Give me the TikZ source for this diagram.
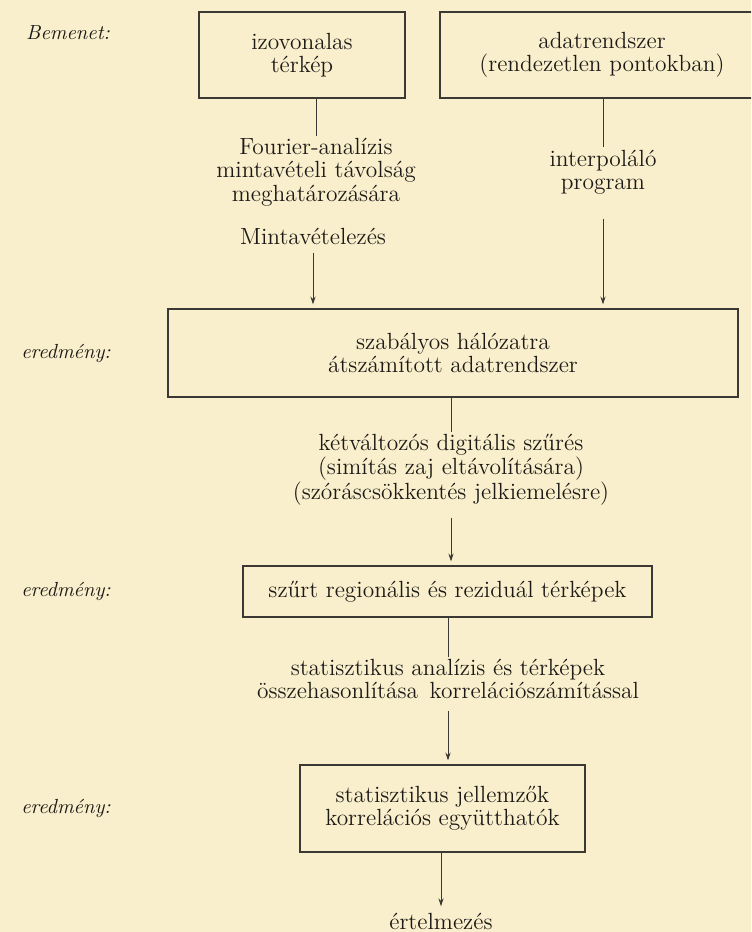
\documentclass[tikz,border=0pt]{standalone}
\usepackage{fontspec}
\usepackage{tikz}
\usetikzlibrary{arrows.meta,calc}

\definecolor{papir}{RGB}{249,239,204}
\definecolor{tinta}{RGB}{28,25,22}
\definecolor{vonal}{RGB}{60,56,52}

\tikzset{
  keret/.style={draw=vonal, line width=0.55pt, inner sep=0pt, align=center, text=tinta},
  felirat/.style={align=center, text=tinta, inner sep=1pt},
  oldal/.style={font=\fontsize{10.2}{11}\selectfont\itshape, text=tinta},
  nyil/.style={->, shorten >=2pt},
}

\begin{document}
\begin{tikzpicture}[x=0.5pt, y=-0.5pt, >={Stealth[length=4pt,width=2.6pt]},
    line width=0.45pt, draw=vonal, font=\fontsize{11.7}{11.7}\selectfont]

    \clip (0,0) rectangle (751,932);
    \fill[papir] (0,0) rectangle (751,932);

    % bemenetek
    \node[keret, minimum width=103pt, minimum height=43pt] (izo) at (302,55)
        {izovonalas\\térkép};
    \node[keret, minimum width=162pt, minimum height=43pt] (adat) at (602,55)
        {adatrendszer\\(rendezetlen pontokban)};

    \node[felirat] (fourier) at (316,172)
        {Fourier-analízis\\mintavételi távolság\\meghatározására};
    \node[felirat] (minta) at (313,236) {Mintavételezés};
    \node[felirat] (interp) at (603,172) {interpoláló\\program};

    % eredmenyek
    \node[keret, minimum width=285pt, minimum height=44pt] (halo) at (453,353)
        {szabályos hálózatra\\átszámított adatrendszer};
    \node[felirat] (ket) at (451,470)
        {kétváltozós digitális szűrés\\(simítás zaj eltávolítására)\\(szóráscsökkentés jelkiemelésre)};
    \node[keret, minimum width=204.5pt, minimum height=25.5pt] (szurt) at (447.5,591.5)
        {szűrt regionális és reziduál térképek};
    \node[felirat] (statan) at (448,679)
        {statisztikus analízis és térképek\\összehasonlítása\enspace korrelációszámítással};
    \node[keret, minimum width=142.5pt, minimum height=43.5pt] (stat) at (442.5,808.5)
        {statisztikus jellemzők\\korrelációs együtthatók};
    \node[felirat] (ertel) at (441,921) {értelmezés};

    % bal oldali feliratok
    \node[oldal] (bem) at (68,33) {Bemenet:};
    \node[oldal] (er1) at (66,353) {eredmény:};
    \node[oldal] (er2) at (66,591) {eredmény:};
    \node[oldal] (er3) at (66,808) {eredmény:};

    \draw[]  (izo.south -| fourier.north) -- (fourier.north);
    \draw[nyil]  ([yshift=-3pt]minta.south) -- (minta.south |- halo.north);

    \draw[]  (adat.south -| interp.north) -- (interp.north);
    \draw[nyil]  ([yshift=-11pt]interp.south) -- (interp.south |- halo.north);

    \draw[]  (halo.south -| ket.north) -- (ket.north);
    \draw[nyil]  ([yshift=-5pt]ket.south) -- (ket.south |- szurt.north);

    \draw[]  (szurt.south -| statan.north) -- (statan.north);
    \draw[nyil]  ([yshift=-5pt]statan.south) -- (statan.south |- stat.north);

    \draw[nyil]  (stat.south -| ertel.north) -- (ertel.north);

\end{tikzpicture}
\end{document}
